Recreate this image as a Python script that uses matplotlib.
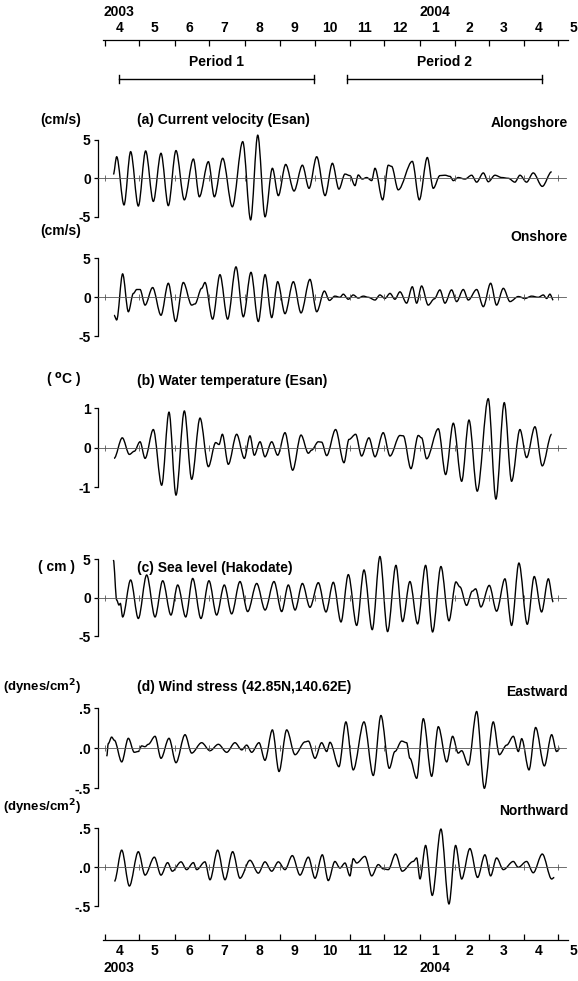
import numpy as np
import matplotlib
matplotlib.use("Agg")
import matplotlib.pyplot as plt
from matplotlib.path import Path
from matplotlib.patches import PathPatch
import pandas as pd

# ---------------- data (x = days since 2003-04-01) ----------------
along_t = [7.3, 10.2, 16.6, 22.4, 29.1, 35.5, 42.2, 48.9, 55.3, 62.0, 69.3, 77.2, 82.4, 90.3, 95.5,
           102.8, 111.2, 120.3, 127.2, 133.4, 139.8, 146.2, 151.4, 157.8, 165.1, 172.4, 178.2, 184.9,
           192.2, 198.6, 204.3, 209.6, 213.9, 218.3, 221.2, 224.7, 228.5, 232.9, 235.8, 242.5, 247.4,
           250.3, 256.1, 268.4, 274.5, 281.5, 286.7, 292.5, 296.9, 301.3, 304.2, 308.5, 314.4, 320.2,
           324.6, 330.4, 334.8, 340.6, 346.4, 352.2, 358.0, 362.4, 368.2, 374.0, 381.9, 390.1]
along_v = [0.5, 2.8, -3.46, 3.46, -3.6, 3.55, -3.0, 3.25, -3.55, 3.6, -2.8, 2.5, -2.4, 2.16, -2.4,
           2.6, -3.7, 4.76, -5.4, 5.6, -5.0, 1.3, -2.25, 1.8, -1.65, 1.7, -1.3, 2.8, -2.25, 1.95,
           -1.4, 0.55, 0.35, -0.95, 0.43, -0.1, 0.1, -0.3, 1.3, -2.8, 1.7, 1.55, -1.5, 2.2, -2.8,
           2.7, -1.3, 0.35, 0.4, 0.25, -0.3, 0.1, -0.1, 0.4, -0.5, 0.7, -0.45, 0.4, 0.1, 0.0,
           -0.5, 0.4, -0.5, 0.7, -1.05, 0.85]

on_t = [7.9, 10.2, 15.4, 20.4, 24.8, 27.7, 30.6, 35.0, 41.6, 48.9, 55.3, 61.7, 68.4, 75.7, 78.6,
        84.4, 87.3, 94.0, 100.4, 107.1, 114.4, 120.8, 127.5, 133.9, 139.8, 145.6, 150.8, 157.2,
        164.5, 171.2, 179.0, 184.9, 191.6, 196.0, 200.8, 205.2, 208.1, 212.5, 216.8, 221.2, 225.6,
        229.9, 235.8, 240.1, 244.5, 248.9, 253.2, 257.6, 263.4, 268.4, 272.2, 276.5, 282.3, 287.6,
        292.5, 296.9, 302.7, 307.1, 312.9, 317.3, 324.6, 330.4, 336.8, 342.0, 347.9, 353.7, 361.0,
        366.8, 372.6, 378.4, 382.8, 385.7, 388.6, 391.5]
on_v = [-2.3, -2.9, 3.0, -1.85, 0.5, 1.0, 1.0, -1.0, 1.25, -2.3, 1.8, -3.1, 1.9, -1.0, -0.85,
        1.15, 1.9, -2.8, 2.9, -2.8, 3.9, -2.5, 3.2, -3.1, 2.9, -2.6, 2.0, -2.1, 2.0, -2.0,
        2.3, -1.85, 0.8, -0.4, 0.15, 0.0, 0.4, -0.25, 0.3, -0.1, 0.15, 0.0, -0.35, 0.3, -0.15,
        0.5, -0.25, 0.7, -0.75, 1.35, -0.75, 1.45, -1.0, -0.2, 0.95, -0.75, 0.95, -0.55, 1.0,
        -0.35, 1.0, -1.2, 1.8, -1.0, 1.15, -0.55, 0.1, -0.15, 0.15, 0.0, 0.3, -0.15, 0.4, -0.35]

temp_t = [7.9, 15.1, 21.3, 25.6, 30.6, 35.0, 42.2, 49.5, 55.9, 62.0, 69.3, 75.7, 83.0, 90.3, 96.7,
          99.6, 102.5, 107.7, 115.0, 121.7, 126.6, 130.4, 135.4, 139.7, 145.6, 150.8, 157.2, 163.9,
          171.2, 177.6, 180.5, 186.3, 189.2, 193.6, 201.4, 208.7, 213.1, 218.9, 224.1, 230.5, 235.8,
          243.0, 248.9, 257.6, 260.5, 267.2, 273.6, 276.5, 280.9, 291.1, 297.5, 304.2, 311.5, 317.9,
          325.1, 334.7, 341.4, 348.7, 355.1, 362.4, 368.2, 375.5, 381.9, 390.1]
temp_v = [-0.27, 0.25, -0.17, -0.09, 0.15, -0.27, 0.46, -0.95, 0.9, -1.2, 0.93, -0.8, 0.75, -0.48,
          0.13, 0.08, 0.34, -0.42, 0.34, -0.27, 0.3, -0.19, 0.15, -0.23, 0.15, -0.19, 0.38, -0.57,
          0.32, -0.14, -0.06, 0.15, 0.14, -0.2, 0.46, -0.38, 0.21, 0.34, -0.21, 0.25, -0.23, 0.38,
          -0.21, 0.31, 0.3, -0.53, 0.31, 0.25, -0.28, 0.48, -0.68, 0.62, -0.85, 0.7, -1.1, 1.24,
          -1.3, 1.14, -0.85, 0.46, -0.25, 0.53, -0.46, 0.34]

sea_t = [7.3, 10.2, 12.2, 13.4, 15.4, 22.4, 29.1, 36.4, 43.7, 50.4, 57.6, 63.5, 70.5, 76.6, 83.8,
         90.8, 97.5, 104.2, 110.6, 117.9, 124.6, 132.5, 139.8, 147.6, 154.3, 160.1, 166.0, 172.4,
         179.0, 186.3, 193.0, 199.4, 206.1, 212.5, 219.8, 226.2, 233.4, 240.1, 246.8, 254.1, 259.9,
         266.3, 273.0, 280.0, 286.1, 293.4, 300.4, 306.5, 310.0, 315.8, 320.8, 323.7, 328.3, 335.6,
         342.0, 349.3, 355.1, 361.5, 368.8, 374.9, 381.3, 387.2, 391.5]
sea_v = [4.9, -0.3, -0.95, -0.75, -2.5, 2.3, -2.7, 2.95, -2.5, 2.2, -2.25, 1.65, -2.5, 2.5, -2.7,
         2.2, -2.25, 1.65, -2.1, 2.1, -1.8, 1.85, -1.6, 2.1, -1.8, 1.65, -1.6, 1.85, -1.25, 1.95,
         -1.85, 2.0, -3.15, 3.0, -3.6, 3.6, -4.15, 5.35, -4.4, 4.2, -3.1, 2.1, -3.4, 4.2, -4.45,
         4.05, -3.0, 2.05, 1.4, -1.0, 0.85, 1.15, -1.2, 1.6, -1.75, 2.45, -3.6, 4.5, -3.45, 2.75,
         -1.85, 2.45, -0.55]

east_t = [1.5, 2.9, 5.8, 8.2, 14.6, 20.4, 25.6, 29.1, 32.0, 34.9, 37.8, 43.7, 48.9, 55.9, 62.0,
          69.9, 75.7, 84.4, 91.7, 99.0, 106.3, 113.5, 119.4, 123.7, 128.1, 134.5, 139.7, 146.2,
          152.0, 158.7, 166.0, 174.7, 177.6, 183.4, 189.2, 193.6, 196.5, 204.3, 210.4, 216.8,
          226.2, 234.3, 241.0, 248.3, 253.2, 259.1, 263.4, 266.3, 272.2, 278.0, 285.3, 291.1,
          298.4, 303.6, 308.5, 311.5, 317.3, 324.6, 331.3, 339.1, 344.4, 350.8, 356.6, 361.0,
          363.9, 370.3, 376.1, 383.7, 390.1, 394.4, 397.3]
east_v = [-0.1, 0.06, 0.14, 0.1, -0.17, 0.125, -0.05, -0.04, 0.03, 0.02, 0.05, 0.15, -0.125, 0.125,
          -0.18, 0.17, -0.06, 0.07, -0.03, 0.05, -0.05, 0.07, -0.02, 0.04, -0.05, 0.07, -0.15,
          0.23, -0.29, 0.23, -0.08, 0.08, 0.09, -0.125, 0.07, -0.04, 0.075, -0.23, 0.33, -0.27,
          0.33, -0.34, 0.41, -0.25, -0.04, 0.09, 0.07, -0.125, -0.375, 0.37, -0.35, 0.27, -0.17,
          0.15, -0.06, -0.03, -0.21, 0.46, -0.5, 0.33, -0.08, 0.04, 0.15, -0.04, 0.12, -0.27,
          0.26, -0.22, 0.17, -0.04, 0.0]

north_t = [8.2, 14.6, 21.3, 29.1, 35.0, 43.1, 48.9, 54.7, 58.8, 66.4, 71.3, 77.2, 80.1, 87.3, 91.7,
           98.4, 104.8, 111.5, 117.9, 126.6, 133.9, 139.7, 145.6, 151.4, 157.2, 163.6, 170.3,
           177.6, 183.4, 189.8, 195.0, 200.8, 205.2, 209.6, 213.9, 216.8, 219.8, 227.0, 232.9,
           238.7, 243.0, 247.4, 253.8, 259.6, 269.2, 272.2, 275.1, 280.0, 285.8, 293.4, 300.4,
           306.2, 311.5, 318.7, 325.4, 331.8, 336.8, 342.0, 347.9, 356.6, 360.9, 368.2, 374.0,
           381.9, 390.1, 392.4]
north_v = [-0.18, 0.22, -0.24, 0.2, -0.1, 0.13, -0.1, 0.06, -0.05, 0.07, -0.03, 0.06, -0.03, 0.07,
           -0.16, 0.22, -0.16, 0.2, -0.14, 0.09, -0.075, 0.07, -0.05, 0.07, -0.03, 0.15, -0.1,
           0.13, -0.14, 0.16, -0.17, 0.075, -0.01, 0.055, -0.11, 0.11, 0.055, 0.14, -0.11, 0.035,
           -0.02, -0.03, 0.17, -0.05, 0.075, 0.12, -0.15, 0.28, -0.36, 0.49, -0.47, 0.28, -0.15,
           0.24, -0.13, 0.16, -0.11, 0.12, -0.03, 0.075, 0.0, 0.075, -0.07, 0.17, -0.15, -0.13]

month_labels = ['4', '5', '6', '7', '8', '9', '10', '11', '12', '1', '2', '3', '4', '5']
year_labels = ['2003', '2004']
period_names = ['Period 1', 'Period 2']
period_start = [12.2, 211.4]
period_end = [182.5, 381.7]

# ---------------- layout helpers ----------------
W, H, DPI = 578, 981, 100
FONT = ['Liberation Sans', 'DejaVu Sans']
PX0, PPD = 105.0, 1.145          # pixel of day 0, pixels per day

origin = pd.Timestamp('2003-04-01')
mstarts = pd.date_range('2003-04-01', '2004-06-01', freq='MS')
month_days = np.array([(d - origin).days for d in mstarts], dtype=float)
mid_days = (month_days[:-1] + month_days[1:]) / 2.0

fig = plt.figure(figsize=(W / DPI, H / DPI), dpi=DPI)


def fx(px):
    return px / W


def fy(py):
    return 1 - py / H


def day(px):
    return (px - PX0) / PPD


def ftext(x, y, s, ha='left', size=10):
    fig.text(fx(x), fy(y), s, ha=ha, va='center', fontsize=size,
             fontweight='bold', family=FONT)


def smooth_curve(t, v):
    """Curve through the data points, flat at each point (wave-like strokes)."""
    verts = [(t[0], v[0])]
    codes = [Path.MOVETO]
    for i in range(len(t) - 1):
        dt = t[i + 1] - t[i]
        verts += [(t[i] + dt / 3.0, v[i]), (t[i + 1] - dt / 3.0, v[i + 1]), (t[i + 1], v[i + 1])]
        codes += [Path.CURVE4] * 3
    return Path(verts, codes)


AX_L, AX_R = 97.7, 566.0


def panel(t, v, zero_px, ppu, lim, labels):
    half = lim * 1.6
    ax = fig.add_axes([fx(AX_L), fy(zero_px + ppu * half), fx(AX_R) - fx(AX_L),
                       2 * ppu * half / H])
    ax.set_xlim(day(AX_L), day(AX_R))
    ax.set_ylim(-half, half)
    ax.patch.set_visible(False)
    for s in ['top', 'right']:
        ax.spines[s].set_visible(False)
    ax.spines['left'].set_bounds(-lim, lim)
    ax.spines['left'].set_linewidth(0.9)
    ax.spines['bottom'].set_position(('data', 0))
    ax.spines['bottom'].set_linewidth(0.6)
    ax.spines['bottom'].set_color('#555555')
    ax.set_yticks([lim, 0, -lim])
    ax.set_yticklabels(labels, fontsize=10, fontweight='bold', family=FONT)
    ax.tick_params(axis='y', length=3, width=0.9, pad=2)
    ax.set_xticks(month_days[:-1])
    ax.tick_params(axis='x', direction='inout', length=4, width=0.6, color='#555555',
                   labelbottom=False)
    ax.add_patch(PathPatch(smooth_curve(t, v), fill=False, edgecolor='black', lw=1.0,
                           clip_on=False))
    return ax


panel(along_t, along_v, 178.3, 7.7, 5, ['5', '0', '-5'])
panel(on_t, on_v, 297.3, 7.8, 5, ['5', '0', '-5'])
panel(temp_t, temp_v, 447.7, 39.5, 1, ['1', '0', '-1'])
panel(sea_t, sea_v, 597.7, 7.7, 5, ['5', '0', '-5'])
panel(east_t, east_v, 748.3, 80.0, 0.5, ['.5', '.0', '-.5'])
panel(north_t, north_v, 867.3, 78.0, 0.5, ['.5', '.0', '-.5'])

# ---------------- date axes ----------------
DA_L, DA_R = 103.0, 568.0


def date_axis(y_px, top):
    ax = fig.add_axes([fx(DA_L), fy(y_px), fx(DA_R) - fx(DA_L), 0.0005])
    ax.set_xlim(day(DA_L), day(DA_R))
    ax.set_ylim(0, 1)
    ax.patch.set_visible(False)
    ax.set_yticks([])
    for s in ['left', 'right', 'bottom' if top else 'top']:
        ax.spines[s].set_visible(False)
    ax.spines['top' if top else 'bottom'].set_linewidth(0.9)
    ax.set_xticks(month_days[:-1])
    ax.set_xticklabels([])
    if top:
        ax.tick_params(axis='x', top=True, bottom=False, direction='in', length=4, width=0.9,
                       labeltop=False, labelbottom=False)
    else:
        ax.tick_params(axis='x', direction='in', length=4, width=0.9, labelbottom=False)
    yref = 1 if top else 0
    sgn = 1 if top else -1
    for m, lbl in zip(mid_days, month_labels):
        ax.annotate(lbl, xy=(m, yref), xycoords=('data', 'axes fraction'),
                    xytext=(-2, sgn * 8), textcoords='offset points', ha='center',
                    va='center', fontsize=10, fontweight='bold', family=FONT,
                    annotation_clip=False)
    for yi, lbl in zip([0, 9], year_labels):
        ax.annotate(lbl, xy=(mid_days[yi], yref), xycoords=('data', 'axes fraction'),
                    xytext=(-2, sgn * 20), textcoords='offset points', ha='center',
                    va='center', fontsize=10, fontweight='bold', family=FONT,
                    annotation_clip=False)
    return ax


date_axis(40, True)
date_axis(940, False)

# period bars
pax = fig.add_axes([fx(DA_L), fy(90), fx(DA_R) - fx(DA_L), 40 / H])
pax.set_xlim(day(DA_L), day(DA_R))
pax.set_ylim(0, 1)
pax.axis('off')
for name, s, e in zip(period_names, period_start, period_end):
    pax.plot([s, e], [0.27, 0.27], color='black', lw=1.0)
    pax.plot([s, s], [0.17, 0.37], color='black', lw=1.0)
    pax.plot([e, e], [0.17, 0.37], color='black', lw=1.0)
    pax.text((s + e) / 2, 0.7, name, ha='center', va='center', fontsize=10,
             fontweight='bold', family=FONT)

# ---------------- panel texts ----------------
ftext(40, 120, '(cm/s)')
ftext(137, 120, '(a) Current velocity (Esan)')
ftext(568, 123, 'Alongshore', ha='right')
ftext(40, 231, '(cm/s)')
ftext(568, 237, 'Onshore', ha='right')
ftext(46, 381, r'( $^{\mathbf{o}}$C )')
ftext(137, 381, '(b) Water temperature (Esan)')
ftext(38, 567, '( cm )')
ftext(137, 568, '(c) Sea level (Hakodate)')
ftext(3, 687, r'(dynes/cm$^{\mathbf{2}}$)', size=9.5)
ftext(137, 687, '(d) Wind stress (42.85N,140.62E)')
ftext(568, 692, 'Eastward', ha='right')
ftext(3, 807, r'(dynes/cm$^{\mathbf{2}}$)', size=9.5)
ftext(568, 811, 'Northward', ha='right')

fig.savefig('out.png', dpi=DPI)
